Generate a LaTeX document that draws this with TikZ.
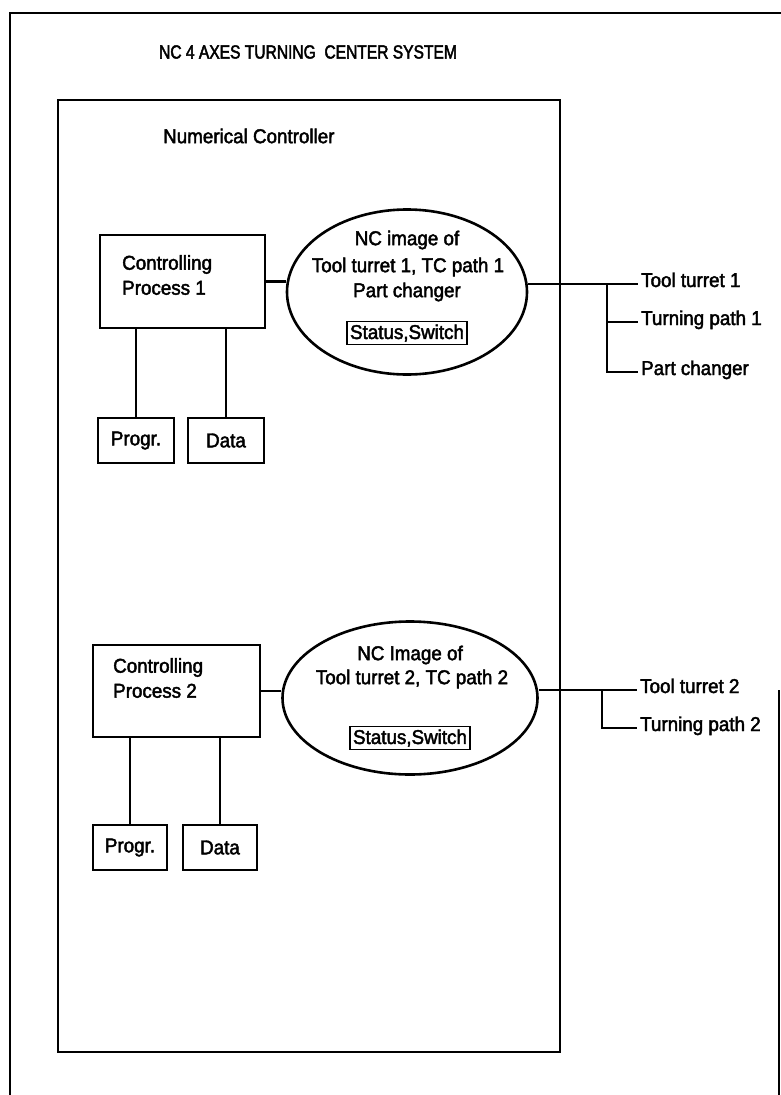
\documentclass[tikz,border=0pt]{standalone}
\usepackage{fontspec}
\setmainfont{Liberation Sans}[FakeBold=2.2]
\newfontfamily\scanfont{Liberation Sans}[FakeBold=2.2, FakeStretch=0.94]
\newfontfamily\headfont{Liberation Sans}[FakeBold=2.4, FakeStretch=0.82]
\usetikzlibrary{shapes.geometric}
\begin{document}
\begin{tikzpicture}[x=1pt,y=-1pt,
  every node/.style={font=\scanfont\fontsize{20}{25}\selectfont, inner sep=0pt},
  frame/.style={line width=2.8pt},
  ncbox/.style={draw, line width=2.8pt},
  procbox/.style={draw, line width=2.6pt},
  smallbox/.style={draw, line width=2.6pt},
  imgell/.style={draw, ellipse, line width=2.6pt},
  statbox/.style={draw, line width=1.3pt, inner xsep=3pt, inner ysep=3pt},
  conn/.style={line width=2.6pt},
  lbl/.style={anchor=base west}]
\useasboundingbox (0,0) rectangle (781,1095);

% page frame
\draw[frame] (10,1095) -- (10,13) -- (781,13);
\draw[frame] (779,690) -- (779,1095);

\node[font=\headfont\fontsize{19}{23}\selectfont] (title) at (308,52) {NC 4 AXES TURNING\ \ CENTER SYSTEM};

% numerical controller
\node[ncbox, minimum width=502pt, minimum height=952pt] (nc) at (309,576) {};
\node[anchor=west] (nclabel) at (163,136) {Numerical Controller};

% ---- channel 1 ----
\node[procbox, minimum width=165pt, minimum height=93pt] (cp1) at (182.5,281.5) {};
\node[anchor=north west, align=left] (cp1t) at (122,255) {Controlling\\Process 1};
\node[smallbox, minimum width=76pt, minimum height=45pt] (prog1) at (136,440.5) {Progr.};
\node[smallbox, minimum width=76pt, minimum height=45pt] (data1) at (226,440.5) {Data};
\draw[conn] (prog1.north) -- (prog1.north |- cp1.south);
\draw[conn] (data1.north) -- (data1.north |- cp1.south);

\node[imgell, minimum width=240pt, minimum height=165pt] (e1) at (407,292) {};
\node (e1a) at (407,240) {NC image of};
\node (e1b) at (408,267) {Tool turret 1, TC path 1};
\node (e1c) at (407,292) {Part changer};
\node[statbox] (s1) at (407,333) {Status,Switch};
\draw[conn] (cp1.east) -- (cp1.east -| e1.west);

\coordinate (j1) at (607,284);
\node[lbl] (tt1) at (641,287) {Tool turret 1};
\node[lbl] (tp1) at (641,325) {Turning path 1};
\node[lbl] (pc1) at (641,375) {Part changer};
\draw[conn] (j1 -| e1.east) -- (j1) -- ([xshift=-3pt,yshift=3pt]tt1.base west);
\draw[conn] (j1) |- ([xshift=-3pt,yshift=3pt]tp1.base west);
\draw[conn] (j1) |- ([xshift=-3pt,yshift=3pt]pc1.base west);

% ---- channel 2 ----
\node[procbox, minimum width=167pt, minimum height=92pt] (cp2) at (176.5,691) {};
\node[anchor=north west, align=left] (cp2t) at (113,658) {Controlling\\Process 2};
\node[smallbox, minimum width=74pt, minimum height=45pt] (prog2) at (130,847.5) {Progr.};
\node[smallbox, minimum width=74pt, minimum height=45pt] (data2) at (220,847.5) {Data};
\draw[conn] (prog2.north) -- (prog2.north |- cp2.south);
\draw[conn] (data2.north) -- (data2.north |- cp2.south);

\node[imgell, minimum width=255pt, minimum height=153pt] (e2) at (410,698) {};
\node (e2a) at (410,655) {NC Image of};
\node (e2b) at (412,679) {Tool turret 2, TC path 2};
\node[statbox] (s2) at (410,738) {Status,Switch};
\draw[conn] (cp2.east) -- (cp2.east -| e2.west);

\coordinate (j2) at (602,690);
\node[lbl] (tt2) at (640,693) {Tool turret 2};
\node[lbl] (tp2) at (640,731) {Turning path 2};
\draw[conn] (j2 -| e2.east) -- (j2) -- ([xshift=-3pt,yshift=3pt]tt2.base west);
\draw[conn] (j2) |- ([xshift=-3pt,yshift=3pt]tp2.base west);
\end{tikzpicture}
\end{document}
